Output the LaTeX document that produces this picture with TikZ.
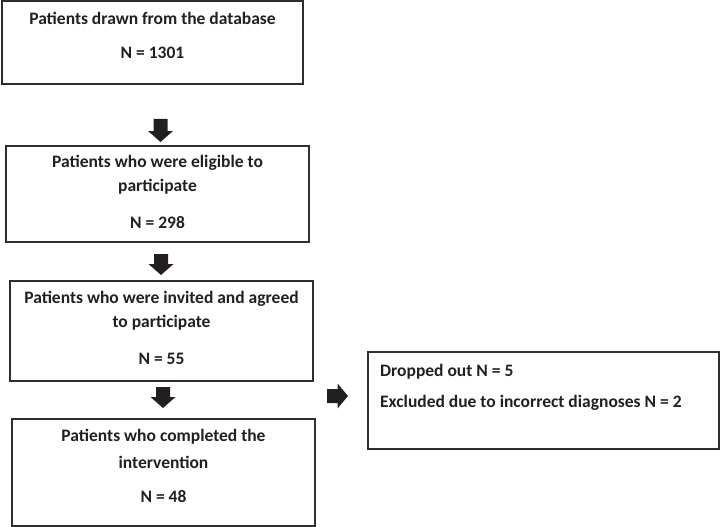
\documentclass[tikz,border=0pt]{standalone}
\usepackage{fontspec}
\setmainfont{Carlito}
\definecolor{edge}{HTML}{2E2E2E}
\definecolor{arrowfill}{HTML}{231F20}
\definecolor{txt}{HTML}{231F20}
\tikzset{
  flowbox/.style={draw=edge, line width=1.4pt, rectangle, inner sep=0pt},
  lbl/.style={font=\fontsize{17.5}{21}\selectfont\bfseries, text=txt, inner sep=0pt, anchor=center},
  lblleft/.style={font=\fontsize{17.5}{21}\selectfont\bfseries, text=txt, inner sep=0pt, anchor=west},
  blockarrow/.style={fill=arrowfill, draw=none}
}
\begin{document}
\begin{tikzpicture}[x=1pt, y={(0,-1pt)}]
\useasboundingbox (0,0) rectangle (721,527);
% boxes
\node[flowbox, minimum width=301pt, minimum height=83pt] (b1) at (152.5,42.5) {};
\node[flowbox, minimum width=303pt, minimum height=96pt] (b2) at (157.5,194) {};
\node[flowbox, minimum width=303pt, minimum height=100pt] (b3) at (161.5,331) {};
\node[flowbox, minimum width=303pt, minimum height=107pt] (b4) at (163.5,472.5) {};
\node[flowbox, minimum width=351pt, minimum height=97pt] (b5) at (543.5,400.5) {};
% texts
\node[lbl] (t1a) at (152.5,18) {Patients drawn from the database};
\node[lbl] (t1b) at (152.5,53) {N = 1301};
\node[lbl] (t2a) at (157.5,163) {Patients who were eligible to};
\node[lbl] (t2b) at (157.5,187) {participate};
\node[lbl] (t2c) at (157.5,223) {N = 298};
\node[lbl] (t3a) at (161.5,299) {Patients who were invited and agreed};
\node[lbl] (t3b) at (161.5,323) {to participate};
\node[lbl] (t3c) at (161.5,359) {N = 55};
\node[lbl] (t4a) at (163.5,437) {Patients who completed the};
\node[lbl] (t4b) at (163.5,462) {intervention};
\node[lbl] (t4c) at (163.5,497) {N = 48};
\node[lblleft] (t5a) at (380,372) {Dropped out N = 5};
\node[lblleft] (t5b) at (380,403) {Excluded due to incorrect diagnoses N = 2};
% block arrows (down)
\path[blockarrow, shift={(160.5,131)}] (-7,-12) -- (7,-12) -- (7,0) -- (12.5,0) -- (0,11) -- (-12.5,0) -- (-7,0) -- cycle;
\path[blockarrow, shift={(161,265)}] (-7,-11) -- (7,-11) -- (7,-1) -- (12.5,-1) -- (0,10) -- (-12.5,-1) -- (-7,-1) -- cycle;
\path[blockarrow, shift={(163,397)}] (-7,-10) -- (7,-10) -- (7,0) -- (12.5,0) -- (0,11) -- (-12.5,0) -- (-7,0) -- cycle;
% block arrow (right)
\path[blockarrow, shift={(337.5,396)}] (-10.5,-7) -- (0,-7) -- (0,-12.5) -- (10.5,0) -- (0,12.5) -- (0,7) -- (-10.5,7) -- cycle;
\end{tikzpicture}
\end{document}
